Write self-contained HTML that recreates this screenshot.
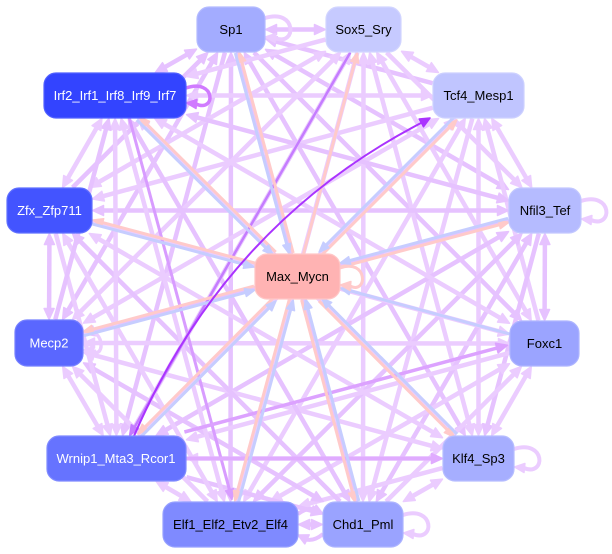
<!DOCTYPE html>
<html><head><meta charset="utf-8">
<style>
html,body{margin:0;padding:0;background:#fff;width:612px;height:554px;overflow:hidden}
svg{display:block}
text{font-family:"Liberation Sans",Arial,Helvetica,sans-serif;font-size:13px;text-anchor:middle}
</style></head><body>
<svg width="612" height="554" viewBox="0 0 612 554" xmlns="http://www.w3.org/2000/svg">
<rect x="0" y="0" width="612" height="554" fill="#ffffff"/>
<g id="edges"></g>
<g id="nodes">
<rect x="197" y="7" width="68" height="45" rx="12" fill="#A3ACFF" stroke="#B4BBFF" stroke-width="1.2"/>
<text x="231" y="34" fill="#000">Sp1</text>
<rect x="326" y="7" width="75" height="45" rx="12" fill="#C6CAFF" stroke="#D2D5FF" stroke-width="1.2"/>
<text x="363.5" y="34" fill="#000">Sox5_Sry</text>
<rect x="433" y="73" width="91" height="45" rx="12" fill="#C0C5FF" stroke="#CDD1FF" stroke-width="1.2"/>
<text x="478.5" y="100" fill="#000">Tcf4_Mesp1</text>
<rect x="509" y="188" width="72" height="45" rx="12" fill="#B5BBFF" stroke="#C3C8FF" stroke-width="1.2"/>
<text x="545" y="215" fill="#000">Nfil3_Tef</text>
<rect x="510" y="321" width="69" height="45" rx="12" fill="#9BA4FF" stroke="#AEB5FF" stroke-width="1.2"/>
<text x="544.5" y="348" fill="#000">Foxc1</text>
<rect x="443" y="436" width="71" height="45" rx="12" fill="#A6AEFF" stroke="#B6BDFF" stroke-width="1.2"/>
<text x="478.5" y="463" fill="#000">Klf4_Sp3</text>
<rect x="323" y="502" width="80" height="45" rx="12" fill="#9AA3FF" stroke="#ADB4FF" stroke-width="1.2"/>
<text x="363" y="529" fill="#000">Chd1_Pml</text>
<rect x="163" y="502" width="135" height="45" rx="12" fill="#7F8AFF" stroke="#96A0FF" stroke-width="1.2"/>
<text x="230.5" y="529" fill="#000">Elf1_Elf2_Etv2_Elf4</text>
<rect x="47" y="436" width="139" height="45" rx="12" fill="#6673FF" stroke="#808BFF" stroke-width="1.2"/>
<text x="116" y="463" fill="#fff">Wrnip1_Mta3_Rcor1</text>
<rect x="15" y="320" width="68" height="46" rx="12" fill="#5A67FF" stroke="#7580FF" stroke-width="1.2"/>
<text x="49" y="347.5" fill="#fff">Mecp2</text>
<rect x="7" y="188" width="85" height="45" rx="12" fill="#4354FF" stroke="#6070FF" stroke-width="1.2"/>
<text x="49.5" y="215" fill="#fff">Zfx_Zfp711</text>
<rect x="44" y="73" width="142" height="45" rx="12" fill="#3344FF" stroke="#5060FF" stroke-width="1.2"/>
<text x="115" y="100" fill="#fff">Irf2_Irf1_Irf8_Irf9_Irf7</text>
<rect x="255" y="254" width="85" height="45" rx="12" fill="#FFB3B3" stroke="#FFC6C6" stroke-width="1.2"/>
<text x="297.5" y="281" fill="#000">Max_Mycn</text>
</g>
</svg>
<script>
(function(){
var B={Sp1:[197,7,265,52],Sox:[326,7,401,52],Tcf:[433,73,524,118],Nfil:[509,188,581,233],Foxc:[510,321,579,366],Klf:[443,436,514,481],Chd:[323,502,403,547],Elf:[163,502,298,547],Wrn:[47,436,186,481],Mecp:[15,320,83,366],Zfx:[7,188,92,233],Irf:[44,73,186,118],Max:[255,254,340,299]};
var outer=['Sp1','Sox','Tcf','Nfil','Foxc','Klf','Chd','Elf','Wrn','Mecp','Zfx','Irf'];
function ctr(k){var b=B[k];return[(b[0]+b[2])/2,(b[1]+b[3])/2];}
function clip(k,dx,dy){var b=B[k],c=ctr(k),hw=(b[2]-b[0])/2+0.5,hh=(b[3]-b[1])/2+0.5,t=1e9;
 if(Math.abs(dx)>1e-6)t=Math.min(t,hw/Math.abs(dx));if(Math.abs(dy)>1e-6)t=Math.min(t,hh/Math.abs(dy));return[c[0]+dx*t,c[1]+dy*t];}
function f(p){return p[0].toFixed(1)+','+p[1].toFixed(1);}
function arrow(tip,dx,dy,col,al,aw){var px=-dy,py=dx,b=[tip[0]-dx*al,tip[1]-dy*al];
 return '<polygon points="'+f(tip)+' '+f([b[0]+px*aw,b[1]+py*aw])+' '+f([b[0]-px*aw,b[1]-py*aw])+'" fill="'+col+'" stroke="'+col+'" stroke-width="1.5" stroke-linejoin="round"/>';}
function edge(a,b,col,w,ae,as,off){off=off||0;var ca=ctr(a),cb=ctr(b),dx=cb[0]-ca[0],dy=cb[1]-ca[1],L=Math.hypot(dx,dy);dx/=L;dy/=L;var px=-dy,py=dx;
 var P=clip(a,dx,dy),Q=clip(b,-dx,-dy);P=[P[0]+px*off,P[1]+py*off];Q=[Q[0]+px*off,Q[1]+py*off];
 var al=w>3?11:10,aw=w>3?5:4,s=P,e=Q,out='';
 if(ae){out+=arrow(Q,dx,dy,col,al,aw);e=[Q[0]-dx*(al-1),Q[1]-dy*(al-1)];}
 if(as){out+=arrow(P,-dx,-dy,col,al,aw);s=[P[0]+dx*(al-1),P[1]+dy*(al-1)];}
 out+='<line x1="'+s[0].toFixed(1)+'" y1="'+s[1].toFixed(1)+'" x2="'+e[0].toFixed(1)+'" y2="'+e[1].toFixed(1)+'" stroke="'+col+'" stroke-width="'+w+'"/>';
 return out;}
function loop(k,col,w,y1,y2,ext){var x=B[k][2];
 var out='<path d="M'+x+','+y1+' C'+(x+ext)+','+(y1-10)+' '+(x+ext)+','+(y2+10)+' '+(x+10)+','+(y2+1)+'" fill="none" stroke="'+col+'" stroke-width="'+w+'"/>';
 out+=arrow([x+0.5,y2],-0.995,-0.1,col,10,4.5);return out;}
var light='',mid='',pb='',dark='';
var special={'Sox|Wrn':1,'Irf|Elf':1,'Wrn|Foxc':1,'Wrn|Klf':1};
for(var i=0;i<outer.length;i++){for(var j=i+1;j<outer.length;j++){
 var a=outer[i],b=outer[j];
 var col=((i*5+j*3)%3==0)?'#E6C2FF':'#EBCCFF';
 var ae=true,as=((i+j)%4!=0);
 if((i+j)%4==2&&i%2==0){ae=false;as=true;}
 light+=edge(a,b,col,4.5,ae,as,0);
}}
light+=loop('Sp1','#EBCCFF',4,18,37,32);
light+=loop('Nfil','#EBCCFF',4,201,219,32);
light+=loop('Klf','#EBCCFF',4,449,467,32);
light+=loop('Chd','#EBCCFF',4,515,533,32);
light+=loop('Mecp','#EBCCFF',3.5,334,350,22);
light+='<path d="M298,514 Q310,505 320,512" fill="none" stroke="#E6C2FF" stroke-width="4"/>'+arrow([323,514],0.9,0.44,'#E6C2FF',10,5);
light+='<path d="M323,534 Q311,544 301,537" fill="none" stroke="#E6C2FF" stroke-width="4"/>'+arrow([298,535],-0.9,-0.44,'#E6C2FF',10,5);
mid+=edge('Sox','Wrn','#C57CFF',2.5,true,false,0);
mid+=edge('Irf','Elf','#D89CFF',3,true,false,-8);
mid+=edge('Wrn','Foxc','#DCA2FF',3.5,true,false,-8);
mid+=edge('Wrn','Klf','#E0ABFF',4,true,false,0);
mid+=loop('Irf','#D07AFF',3.5,88,103,30);
var both=['Sp1','Irf','Zfx','Mecp','Wrn','Elf','Chd','Klf','Nfil','Tcf'];
for(var k=0;k<both.length;k++){pb+=edge('Max',both[k],'#FFCACA',3,true,false,2);pb+=edge(both[k],'Max','#C6CDFF',3,true,false,2);}
pb+=edge('Max','Sox','#FFCACA',3,true,false,0);
pb+=edge('Foxc','Max','#C6CDFF',3,true,false,0);
pb+=loop('Max','#FFCACA',3,268,285,28);
dark+='<path d="M134,436 Q225,225 421,123" fill="none" stroke="#AA33FF" stroke-width="2"/>'+arrow([430,118],0.87,-0.49,'#AA33FF',10,4.5);
document.getElementById('edges').innerHTML=light+mid+pb+dark;
})();
</script>
</body></html>
